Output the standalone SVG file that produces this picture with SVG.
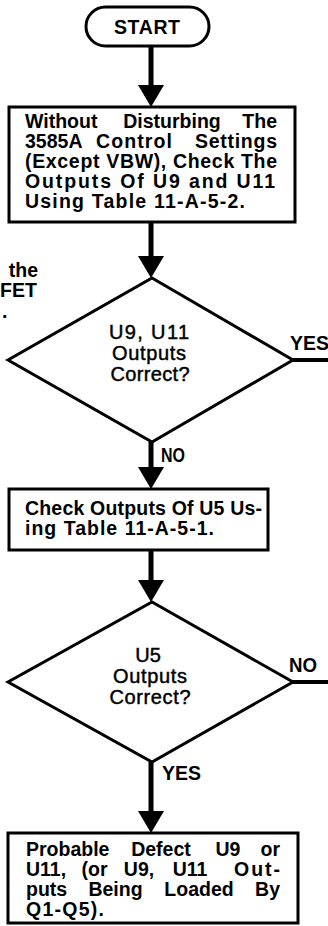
<svg xmlns="http://www.w3.org/2000/svg" width="328" height="926" viewBox="0 0 328 926">
<style>
.shape{fill:#fff;stroke:#000;stroke-width:3}
.conn{fill:none;stroke:#000;stroke-width:5}
.side{fill:none;stroke:#000;stroke-width:4}
.b{font-family:"Liberation Sans",Arial,sans-serif;font-weight:bold;font-size:19.5px;fill:#000}
.m{text-anchor:middle}
.e{text-anchor:end}
.d{font-family:"Liberation Sans",Arial,sans-serif;font-size:20px;fill:#000;text-anchor:middle;stroke:#000;stroke-width:0.45}
</style>
<defs>
<marker id="ah" markerUnits="userSpaceOnUse" markerWidth="22" markerHeight="26" viewBox="0 0 22 26" refX="8" refY="13" orient="auto">
<path d="M0,0 L22,13 L0,26 Z" fill="#000"/>
</marker>
</defs>
<rect width="328" height="926" fill="#fff"/>
<g id="connectors">
<line class="conn" x1="151" y1="46" x2="151" y2="93" marker-end="url(#ah)"/>
<line class="conn" x1="151" y1="222" x2="151" y2="264" marker-end="url(#ah)"/>
<line class="conn" x1="151" y1="442" x2="151" y2="475" marker-end="url(#ah)"/>
<line class="conn" x1="151" y1="550" x2="151" y2="588" marker-end="url(#ah)"/>
<line class="conn" x1="151" y1="762" x2="151" y2="819" marker-end="url(#ah)"/>
<line class="side" x1="292" y1="360" x2="328" y2="360"/>
<line class="side" x1="292" y1="682" x2="328" y2="682"/>
<text class="b" x="290" y="350">YES</text>
<text class="b" x="161" y="462" textLength="24" lengthAdjust="spacingAndGlyphs">NO</text>
<text class="b" x="289" y="672" textLength="28" lengthAdjust="spacingAndGlyphs">NO</text>
<text class="b" x="162" y="780">YES</text>
</g>
<g id="fragment">
<text class="b e" x="38" y="277">the</text>
<text class="b" x="0" y="297">FET</text>
<text class="b" x="2" y="318">.</text>
</g>
<g id="start">
<rect class="shape" x="86" y="7" width="123" height="39" rx="19.5"/>
<text class="b m" x="147" y="34" textLength="66" lengthAdjust="spacing">START</text>
</g>
<g id="box1">
<rect class="shape" x="9" y="107" width="286" height="115"/>
<text class="b" x="25" y="128">Without</text>
<text class="b m" x="172" y="128">Disturbing</text>
<text class="b e" x="277" y="128">The</text>
<text class="b" x="25" y="148">3585A</text>
<text class="b m" x="134" y="148" textLength="76" lengthAdjust="spacing">Control</text>
<text class="b e" x="277" y="148" textLength="82" lengthAdjust="spacing">Settings</text>
<text class="b" x="25" y="168" textLength="252" lengthAdjust="spacing">(Except VBW), Check The</text>
<text class="b" x="25" y="188" textLength="250" lengthAdjust="spacing">Outputs Of U9 and U11</text>
<text class="b" x="25" y="208" textLength="220" lengthAdjust="spacing">Using Table 11-A-5-2.</text>
</g>
<g id="decision1">
<polygon class="shape" points="152,278 293,360 152,442 8,360"/>
<text class="d" x="149" y="339" textLength="80" lengthAdjust="spacing">U9, U11</text>
<text class="d" x="149" y="360" textLength="74" lengthAdjust="spacing">Outputs</text>
<text class="d" x="150" y="381" textLength="79" lengthAdjust="spacing">Correct?</text>
</g>
<g id="box2">
<rect class="shape" x="9" y="489" width="259" height="61"/>
<text class="b" x="25" y="515" textLength="237" lengthAdjust="spacing">Check Outputs Of U5 Us-</text>
<text class="b" x="25" y="535" textLength="189" lengthAdjust="spacing">ing Table 11-A-5-1.</text>
</g>
<g id="decision2">
<polygon class="shape" points="152,602 293,682 152,762 8,682"/>
<text class="d" x="148" y="662">U5</text>
<text class="d" x="150" y="683" textLength="74" lengthAdjust="spacing">Outputs</text>
<text class="d" x="150" y="704" textLength="81" lengthAdjust="spacing">Correct?</text>
</g>
<g id="box3">
<rect class="shape" x="8" y="833" width="290" height="90"/>
<text class="b" x="26" y="856">Probable</text>
<text class="b m" x="161" y="856">Defect</text>
<text class="b m" x="228" y="856">U9</text>
<text class="b e" x="280" y="856">or</text>
<text class="b" x="26" y="876">U11,</text>
<text class="b m" x="94.5" y="876">(or</text>
<text class="b m" x="139" y="876">U9,</text>
<text class="b m" x="190" y="876">U11</text>
<text class="b e" x="280" y="876" textLength="46" lengthAdjust="spacing">Out-</text>
<text class="b" x="26" y="896">puts</text>
<text class="b m" x="115.5" y="896">Being</text>
<text class="b m" x="199" y="896">Loaded</text>
<text class="b e" x="280" y="896">By</text>
<text class="b" x="26" y="916" textLength="78" lengthAdjust="spacing">Q1-Q5).</text>
</g>
</svg>
